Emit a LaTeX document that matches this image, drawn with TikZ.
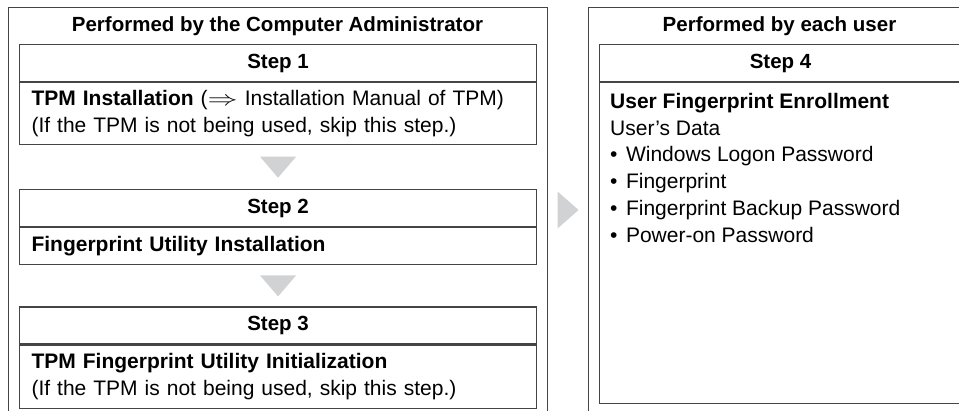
\documentclass[tikz,border=0pt]{standalone}
\usepackage{fontspec}
\setmainfont{Liberation Sans}
\usetikzlibrary{
  positioning,
  calc
}
\usepackage{xcolor}
\definecolor{fpLine}{HTML}{454545}
\definecolor{fpArrow}{HTML}{D1D2D4}
\newcommand{\fpfont}{\fontsize{20.5pt}{26.7pt}\selectfont}
\newcommand{\fpbody}{\fontsize{21pt}{26.7pt}\selectfont}
\newcommand{\fparrow}{\scalebox{1.45}[1]{$\Rightarrow$}\space}
\newcommand{\fpitem}{•\hspace{8.5pt}}
\tikzset{
  % Outer panel frame
  panelframe/.style={
    rectangle,
    draw=fpLine,
    line width=1.1pt,
    inner sep=0pt
  },
  % Panel heading text
  paneltitle/.style={
    font=\fpfont\bfseries,
    inner sep=0pt
  },
  % Step header row
  stephead/.style={
    rectangle,
    draw=fpLine,
    line width=1.1pt,
    minimum width=517pt,
    minimum height=37pt,
    inner sep=0pt,
    font=\fpfont\bfseries
  },
  % Step body row
  stepbody/.style={
    rectangle,
    draw=fpLine,
    line width=1.1pt,
    text width=493pt,
    inner xsep=12pt,
    inner ysep=0pt,
    align=left,
    font=\fpbody
  },
  % Gray flow triangle
  flowtip/.style={
    fill=fpArrow,
    draw=none
  },
  % Free text block
  listtext/.style={
    font=\fpbody,
    align=left,
    inner sep=0pt
  }
}

\begin{document}
\begin{tikzpicture}[x=1pt, y=-1pt]

\useasboundingbox (0,0) rectangle (959,410);
\clip (0,0) rectangle (959,410);

%% === Panel frames ===
\node[panelframe, anchor=north west, minimum width=539pt, minimum height=420pt] (adminpanel) at (8,7) {};
\node[panelframe, anchor=north west, minimum width=383pt, minimum height=420pt] (userpanel) at (588,7) {};

\node[paneltitle] (admintitle) at (277.5,26) {Performed by the Computer Administrator};
\node[paneltitle] (usertitle) at (779.5,26) {Performed by each user};

%% === Administrator steps ===
% Step 1
\node[stephead, anchor=north west] (step1head) at (19,44) {Step 1};
\node[stepbody, minimum height=62pt, below=0pt of step1head] (step1body)
  {\textbf{TPM Installation} (\fparrow Installation Manual of TPM)\\
   (If the TPM is not being used, skip this step.)};

% Step 2
\node[stephead, below=44pt of step1body] (step2head) {Step 2};
\node[stepbody, minimum height=37pt, below=0pt of step2head] (step2body)
  {\textbf{Fingerprint Utility Installation}};

% Step 3
\node[stephead, below=41pt of step2body] (step3head) {Step 3};
\node[stepbody, minimum height=63pt, below=0pt of step3head] (step3body)
  {\textbf{TPM Fingerprint Utility Initialization}\\
   (If the TPM is not being used, skip this step.)};

%% === User step ===
\node[stephead, minimum width=362pt, anchor=north west] (step4head) at (599,44) {Step 4};
\node[stepbody, text width=338pt, minimum height=321pt, below=0pt of step4head] (step4body) {};
\node[listtext, below right=11pt and 11pt of step4body.north west] (step4text)
  {\textbf{User Fingerprint Enrollment}\\
   User’s Data\\
   \fpitem Windows Logon Password\\
   \fpitem Fingerprint\\
   \fpitem Fingerprint Backup Password\\
   \fpitem Power-on Password};

%% === Flow triangles ===
% Step 1 -> Step 2
\coordinate (flow12) at ($(step1body.south)!0.5!(step2head.north)$);
\fill[flowtip] ($(flow12)+(-18,-10.5)$) -- ($(flow12)+(18,-10.5)$) -- ($(flow12)+(0,10.5)$) -- cycle;

% Step 2 -> Step 3
\coordinate (flow23) at ($(step2body.south)!0.5!(step3head.north)$);
\fill[flowtip] ($(flow23)+(-18,-10.5)$) -- ($(flow23)+(18,-10.5)$) -- ($(flow23)+(0,10.5)$) -- cycle;

% Administrator -> user
\coordinate (flowAU) at ($(adminpanel.north east)!0.5!(userpanel.north west)+(0,203)$);
\fill[flowtip] ($(flowAU)+(-10.5,-18.5)$) -- ($(flowAU)+(-10.5,18.5)$) -- ($(flowAU)+(10.5,0)$) -- cycle;

\end{tikzpicture}
\end{document}
